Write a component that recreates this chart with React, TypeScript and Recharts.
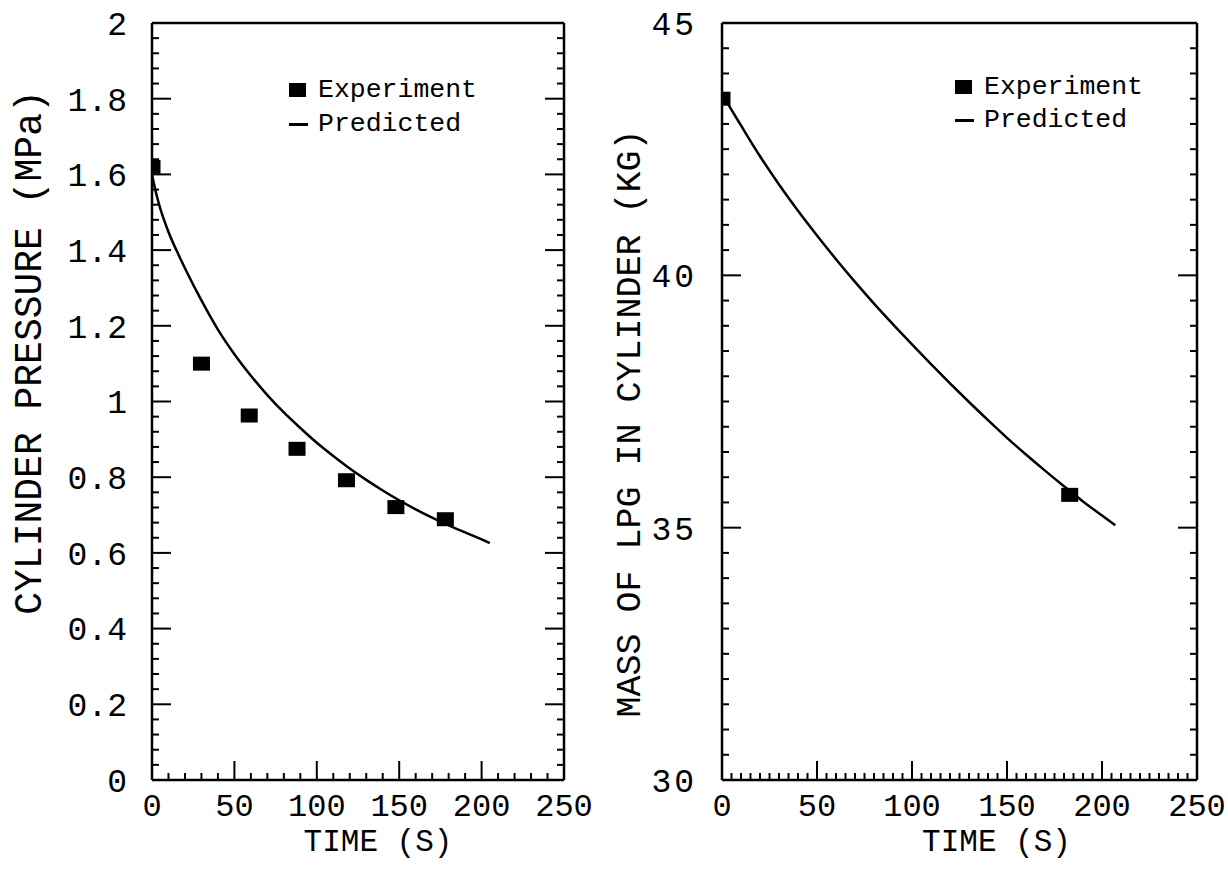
import React from 'react'
import { ComposedChart, Line, Scatter, XAxis, YAxis, Label } from 'recharts'

const FONT = "'Courier New', 'Liberation Mono', monospace"

// left panel: cylinder pressure
const pressureExpTime = [0, 30, 59, 88, 118, 148, 178]
const pressureExp = [1.62, 1.1, 0.963, 0.875, 0.792, 0.721, 0.689]
const pressurePredTime = [0, 2.5, 5, 10, 15, 20, 30, 40, 50, 60, 70, 80, 90, 100, 110, 120, 130, 140, 150, 160, 170, 180, 190, 200, 205]
const pressurePred = [1.6, 1.55, 1.51, 1.448, 1.398, 1.352, 1.267, 1.19, 1.125, 1.068, 1.017, 0.971, 0.93, 0.891, 0.856, 0.823, 0.793, 0.765, 0.739, 0.715, 0.693, 0.673, 0.654, 0.636, 0.626]

// right panel: mass of LPG
const massExpTime = [0, 183]
const massExp = [43.5, 35.65]
const massPredTime = [0, 5, 10, 20, 30, 40, 50, 60, 70, 80, 90, 100, 110, 120, 130, 140, 150, 160, 170, 180, 190, 200, 207]
const massPred = [43.6, 43.28, 42.97, 42.36, 41.8, 41.28, 40.79, 40.32, 39.87, 39.44, 39.03, 38.63, 38.24, 37.86, 37.49, 37.13, 36.78, 36.45, 36.13, 35.82, 35.52, 35.24, 35.05]

// ticks
const timeMajor = [0, 50, 100, 150, 200, 250]
const timeLabels = ['0', '50', '100', '150', '200', '250']
const pressureMajor = [0, 0.2, 0.4, 0.6, 0.8, 1, 1.2, 1.4, 1.6, 1.8, 2]
const pressureLabels = ['0', '0.2', '0.4', '0.6', '0.8', '1', '1.2', '1.4', '1.6', '1.8', '2']
const massMajor = [30, 35, 40, 45]
const massLabels = ['30', '35', '40', '45']

const steps = (from: number, to: number, step: number) =>
  Array.from({ length: Math.round((to - from) / step) + 1 }, (_, i) => +(from + i * step).toFixed(3))

const leftTimeTicks = steps(0, 250, 10)
const rightTimeTicks = steps(0, 250, 5)
const pressureTicks = steps(0, 2, 0.04)
const massTicks = steps(30, 45, 0.5)

const toPoints = (xs: number[], ys: number[]) => xs.map((t, i) => ({ t, v: ys[i] }))

type Side = 'bottom' | 'top' | 'left' | 'right'

function tickRenderer(side: Side, majors: number[], labels?: string[], spacing = 0) {
  return (props: any) => {
    const { x, y, payload } = props
    const mi = majors.findIndex(m => Math.abs(m - payload.value) < 1e-6)
    const len = mi >= 0 ? 19 : 7
    let line
    if (side === 'bottom') line = <line x1={x} y1={y} x2={x} y2={y - len} />
    else if (side === 'top') line = <line x1={x} y1={y} x2={x} y2={y + len} />
    else if (side === 'left') line = <line x1={x} y1={y} x2={x + len} y2={y} />
    else line = <line x1={x} y1={y} x2={x - len} y2={y} />
    let text = null
    if (labels && mi >= 0) {
      text = side === 'bottom'
        ? <text x={x} y={y + 36} textAnchor="middle" fontSize={32} fontFamily={FONT} fill="#000">{labels[mi]}</text>
        : <text x={x - 25} y={y} dy="0.36em" textAnchor="end" fontSize={33} letterSpacing={spacing} fontFamily={FONT} fill="#000">{labels[mi]}</text>
    }
    return (
      <g>
        <g stroke="#000" strokeWidth={2}>{line}</g>
        {text}
      </g>
    )
  }
}

const square = (props: any) => (
  <rect x={props.cx - 8.5} y={props.cy - 7} width={17} height={14} fill="#000" />
)

const axisLine = { stroke: '#000', strokeWidth: 2.5 }

function Panel(props: {
  width: number; yWidth: number; right: number; spacing: number
  xTicks: number[]; yTicks: number[]; yDomain: [number, number]
  yMajor: number[]; yLabels: string[]
  exp: { t: number; v: number }[]; pred: { t: number; v: number }[]
  yTitle: string; yTitleSize: number; yTitleDx: number; yTitleDy: number; xTitleDx: number; xTitleDy: number
}) {
  return (
    <ComposedChart width={props.width} height={869} margin={{ top: 22, right: props.right, left: 0, bottom: 0 }}>
      <XAxis xAxisId="b" type="number" dataKey="t" domain={[0, 250]} ticks={props.xTicks} interval={0}
        orientation="bottom" height={89} tickSize={0} tickMargin={0} tickLine={false} axisLine={axisLine}
        tick={tickRenderer('bottom', timeMajor, timeLabels)} allowDataOverflow>
        <Label value="TIME (S)" position="center" dx={props.xTitleDx} dy={props.xTitleDy}
          fontSize={31} fontFamily={FONT} fill="#000" />
      </XAxis>
      <XAxis xAxisId="t" type="number" domain={[0, 250]} ticks={props.xTicks} interval={0}
        orientation="top" height={1} tickSize={0} tickMargin={0} tickLine={false} axisLine={axisLine}
        tick={tickRenderer('top', timeMajor)} allowDataOverflow />
      <YAxis yAxisId="l" type="number" dataKey="v" domain={props.yDomain} ticks={props.yTicks} interval={0}
        orientation="left" width={props.yWidth} tickSize={0} tickMargin={0} tickLine={false} axisLine={axisLine}
        tick={tickRenderer('left', props.yMajor, props.yLabels, props.spacing)} allowDataOverflow>
        <Label value={props.yTitle} position="center" angle={-90} dx={props.yTitleDx} dy={props.yTitleDy}
          fontSize={props.yTitleSize} fontFamily={FONT} fill="#000" />
      </YAxis>
      <YAxis yAxisId="r" type="number" domain={props.yDomain} ticks={props.yTicks} interval={0}
        orientation="right" width={1} tickSize={0} tickMargin={0} tickLine={false} axisLine={axisLine}
        tick={tickRenderer('right', props.yMajor)} allowDataOverflow />
      <Line xAxisId="b" yAxisId="l" data={props.pred} dataKey="v" type="monotone" stroke="#000"
        strokeWidth={2.5} dot={false} isAnimationActive={false} />
      <Scatter xAxisId="b" yAxisId="l" data={props.exp} dataKey="v" shape={square} isAnimationActive={false} />
    </ComposedChart>
  )
}

function LegendBox({ left, top, gap }: { left: number; top: number; gap: number }) {
  const text = { position: 'absolute' as const, left: left + 29, fontFamily: FONT, fontSize: 26.5, lineHeight: '28px', color: '#000', whiteSpace: 'nowrap' as const }
  return (
    <>
      <div style={{ position: 'absolute', left, top, width: 17, height: 14, background: '#000' }} />
      <div style={{ ...text, top: top - 7 }}>Experiment</div>
      <div style={{ position: 'absolute', left, top: top + gap + 6, width: 19, height: 2.5, background: '#000' }} />
      <div style={{ ...text, top: top - 7 + gap }}>Predicted</div>
    </>
  )
}

export default function App() {
  return (
    <div style={{ position: 'absolute', left: 0, top: 0, width: 1228, height: 869, background: '#fff' }}>
      <div style={{ position: 'absolute', left: 0, top: 0 }}>
        <Panel width={600} yWidth={152} right={35} spacing={0}
          xTicks={leftTimeTicks} yTicks={pressureTicks} yDomain={[0, 2]}
          yMajor={pressureMajor} yLabels={pressureLabels}
          exp={toPoints(pressureExpTime, pressureExp)} pred={toPoints(pressurePredTime, pressurePred)}
          yTitle="CYLINDER PRESSURE (MPa)" yTitleSize={38} yTitleDx={-48} yTitleDy={-49} xTitleDx={20} xTitleDy={15} />
      </div>
      <div style={{ position: 'absolute', left: 600, top: 0 }}>
        <Panel width={628} yWidth={122} right={30} spacing={3}
          xTicks={rightTimeTicks} yTicks={massTicks} yDomain={[30, 45]}
          yMajor={massMajor} yLabels={massLabels}
          exp={toPoints(massExpTime, massExp)} pred={toPoints(massPredTime, massPred)}
          yTitle="MASS OF LPG IN CYLINDER (KG)" yTitleSize={35} yTitleDx={-33} yTitleDy={22} xTitleDx={37} xTitleDy={15} />
      </div>
      <LegendBox left={289} top={83} gap={34} />
      <LegendBox left={955} top={80} gap={33} />
    </div>
  )
}
